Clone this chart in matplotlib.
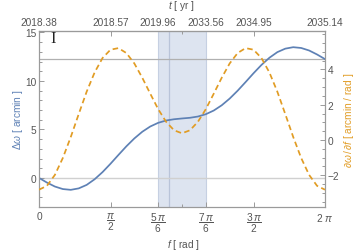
import numpy as np
import matplotlib
matplotlib.use("Agg")
import matplotlib.pyplot as plt
from matplotlib.ticker import MultipleLocator, FixedLocator

plt.rcParams['font.family'] = ['Liberation Sans', 'DejaVu Sans']
plt.rcParams['mathtext.fontset'] = 'custom'
plt.rcParams['mathtext.rm'] = 'Liberation Sans'
plt.rcParams['mathtext.it'] = 'Liberation Sans:italic'
plt.rcParams['mathtext.sf'] = 'Liberation Sans'

# ---- data ----
f_rad = np.linspace(0, 2 * np.pi, 37)  # sample positions, every 10 degrees
delta_omega = [0.00, -0.48, -0.89, -1.15, -1.23, -1.08, -0.72, -0.14, 0.60, 1.46,
               2.37, 3.26, 4.07, 4.76, 5.30, 5.68, 5.92, 6.05, 6.13, 6.20,
               6.33, 6.57, 6.95, 7.49, 8.18, 8.99, 9.88, 10.79, 11.65, 12.39,
               12.97, 13.33, 13.48, 13.40, 13.14, 12.73, 12.25]
domega_df = [-2.82, -2.60, -1.98, -1.02, 0.17, 1.47, 2.74, 3.83, 4.65, 5.12,
             5.21, 4.93, 4.34, 3.53, 2.63, 1.75, 1.03, 0.55, 0.38, 0.55,
             1.03, 1.75, 2.63, 3.53, 4.34, 4.93, 5.21, 5.12, 4.65, 3.83,
             2.74, 1.47, 0.17, -1.02, -1.98, -2.60, -2.82]
tick_pos = [0, np.pi / 2, 5 * np.pi / 6, 7 * np.pi / 6, 3 * np.pi / 2, 2 * np.pi]
bottom_labels = [r"0", r"$\dfrac{\pi}{2}$", r"$\dfrac{5\,\pi}{6}$", r"$\dfrac{7\,\pi}{6}$",
                 r"$\dfrac{3\,\pi}{2}$", r"2 $\pi$"]
top_labels = ["2018.38", "2018.57", "2019.96", "2033.56", "2034.95", "2035.14"]
band = (5 * np.pi / 6, 7 * np.pi / 6)
marker_f = 2.862
hline_left = [0.0, 12.25]

blue = '#5E81B5'
orange = '#E19C24'
axc = '#9a9a9a'
txtc = '#555555'
fs = 7.3

fig = plt.figure(figsize=(3.58, 2.51), dpi=100)
ax = fig.add_axes([39 / 358, 1 - 208 / 251, 286 / 358, 176 / 251])
ax.set_xlim(0, 2 * np.pi)
ax.set_ylim(-3.0, 15.15)

ax.axvspan(band[0], band[1], color='#dde4f0', zorder=0, lw=0)
for xv in band:
    ax.axvline(xv, color='#c6d0e2', lw=0.8, zorder=0.5)
ax.axvline(marker_f, color='#b9c4d9', lw=0.9, zorder=0.5)
ax.axhline(hline_left[0], color='#d0d0d0', lw=1.0, zorder=0.6)
ax.axhline(hline_left[1], color='#b0b0b0', lw=0.9, zorder=0.6)

ax.plot(f_rad, delta_omega, color=blue, lw=1.25, zorder=3)

ax2 = ax.twinx()
ax2.set_ylim(-3.8, 6.18)
ax2.plot(f_rad, domega_df, color=orange, lw=1.25, dashes=(3.2, 2.0), zorder=3)

for a in (ax, ax2):
    for s in a.spines.values():
        s.set_color(axc)
        s.set_linewidth(0.8)

ax.set_xticks(tick_pos)
ax.set_xticklabels(bottom_labels)
ax.xaxis.set_minor_locator(FixedLocator([np.pi]))
ax.yaxis.set_major_locator(FixedLocator([0, 5, 10, 15]))
ax.yaxis.set_minor_locator(MultipleLocator(1))
ax.tick_params(axis='both', which='both', direction='in', colors=axc,
               labelcolor=txtc, labelsize=fs, width=0.7)
ax.tick_params(axis='both', which='major', length=3.5)
ax.tick_params(axis='both', which='minor', length=2)
ax.tick_params(axis='y', pad=2)
ax.tick_params(axis='x', pad=3)

ax2.yaxis.set_major_locator(FixedLocator([-2, 0, 2, 4]))
ax2.yaxis.set_minor_locator(MultipleLocator(0.5))
ax2.tick_params(axis='y', which='both', direction='in', colors=axc,
                labelcolor=txtc, labelsize=fs, width=0.7, pad=2)
ax2.tick_params(axis='y', which='major', length=3.5)
ax2.tick_params(axis='y', which='minor', length=2)
ax2.set_yticklabels(["\u22122", "0", "2", "4"])

sec = ax.secondary_xaxis('top')
sec.set_xticks(tick_pos, top_labels)
sec.xaxis.set_minor_locator(FixedLocator([np.pi]))
sec.tick_params(axis='x', which='both', direction='in', colors=axc,
                labelcolor=txtc, labelsize=fs, width=0.7, pad=3)
sec.tick_params(axis='x', which='major', length=3.5)
sec.tick_params(axis='x', which='minor', length=2)
sec.spines['top'].set_color(axc)

fig.text(181 / 358, 1 - 6 / 251, r"$t$ [ yr ]", ha='center', va='center',
         fontsize=fs, color=txtc)
fig.text(183 / 358, 1 - 245 / 251, r"$f$ [ rad ]", ha='center', va='center',
         fontsize=fs, color=txtc)
fig.text(18 / 358, 1 - 120 / 251, r"$\Delta\omega$ [ arcmin ]", ha='center',
         va='center', rotation=90, fontsize=fs, color=blue)
fig.text(349 / 358, 1 - 120 / 251, r"$\partial\omega\,/\,\partial f$ [ arcmin / rad ]",
         ha='center', va='center', rotation=90, fontsize=fs, color=orange)
fig.text(53 / 358, 1 - 39 / 251, "I", ha='center', va='center',
         fontsize=12, color='#222222', family='Liberation Serif')

fig.savefig('out.png', dpi=100)
